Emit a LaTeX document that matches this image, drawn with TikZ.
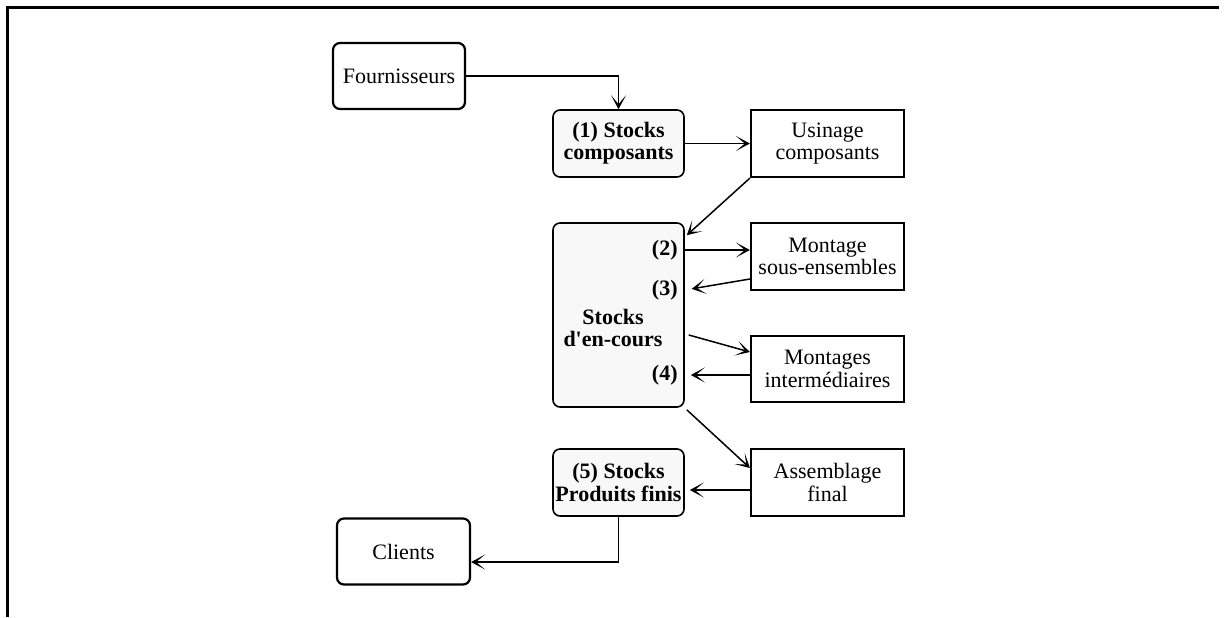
\documentclass[tikz,border=0pt]{standalone}
\usepackage{fontspec}
\setmainfont{Liberation Serif}
\usepackage{xcolor}
\usepackage{tikz}
\usetikzlibrary{positioning}
\usetikzlibrary{arrows.meta}
\definecolor{gris}{HTML}{F8F8F8}
\newcommand{\texte}{\fontsize{11}{11.2}\selectfont}
\tikzstyle{fleche} = [line width=0.75pt,-{Stealth[length=7pt,width=7.5pt,inset=4.5pt]}]
\tikzstyle{stock} = [draw,rounded corners=3.5pt,fill=gris,line width=0.8pt,font=\texte\bfseries,minimum width=65.5pt,minimum height=33.5pt,align=center,inner sep=1pt]
\tikzstyle{poste} = [draw,line width=1.1pt,font=\texte,minimum width=76.5pt,minimum height=33.5pt,align=center,inner sep=1pt]
\tikzstyle{externe} = [draw,rounded corners=3.5pt,line width=1.1pt,font=\texte,minimum width=66pt,minimum height=33pt,align=center]

\begin{document}
\begin{tikzpicture}[x=0.5pt, y=-0.5pt]
	\useasboundingbox (0,0) rectangle (1225,617);
	\draw[line width=1.5pt] (7,617) -- (7,7) -- (1219,7);
	% extremites
	\node[externe]  (four) at (399,76)     {Fournisseurs};
	\node[externe,minimum width=66.5pt] (cli) at (403.5,551.5) {Clients};
	% stocks
	\node[stock]    (sc)   at (618.5,143.5) {(1) Stocks\\composants};
	\node[stock,minimum height=92pt] (enc) at (618.5,315) {};
	\node[font=\texte\bfseries,align=center] (encl) at (613,328) {Stocks\\d\textquotesingle en-cours};
	\node[font=\texte\bfseries,anchor=east,inner sep=0pt] (l2) at (678,250) {(2)};
	\node[font=\texte\bfseries,anchor=east,inner sep=0pt] (l3) at (678,290) {(3)};
	\node[font=\texte\bfseries,anchor=east,inner sep=0pt] (l4) at (678,375) {(4)};
	\node[stock]    (spf)  at (618.5,482.5) {(5) Stocks\\Produits finis};
	% postes
	\node[poste]    (usi)  at (827.5,143.5) {Usinage\\composants};
	\node[poste]    (mse)  at (827.5,256.5) {Montage\\sous-ensembles};
	\node[poste,minimum height=33pt] (mint) at (827.5,369) {Montages\\intermédiaires};
	\node[poste]    (asf)  at (827.5,482.5) {Assemblage\\final};
	% flux
	\draw[fleche] (four) -| (sc);
	\draw[fleche] (sc) -- (usi);
	\draw[fleche] (usi.south west) -- ([xshift=1pt,yshift=-6.5pt]enc.north east);
	\draw[fleche] (enc.east |- l2) -- (mse.west |- l2);
	\draw[fleche,shorten >=3.5pt] ([yshift=-11.25pt]mse.west) -- (enc.east |- l3);
	\draw[fleche] ([xshift=2pt,yshift=-10pt]enc.east) -- ([yshift=8.5pt]mint.west);
	\draw[fleche,shorten >=3pt] (mint.west |- l4) -- (enc.east |- l4);
	\draw[fleche] ([xshift=1pt,yshift=-1pt]enc.south east) -- ([yshift=7.25pt]asf.west);
	\draw[fleche,shorten >=2.5pt] ([yshift=-3.75pt]asf.west) -- ([yshift=-3.75pt]spf.east);
	\draw[fleche] (spf) |- ([yshift=-5.25pt]cli.east);
\end{tikzpicture}
\end{document}
